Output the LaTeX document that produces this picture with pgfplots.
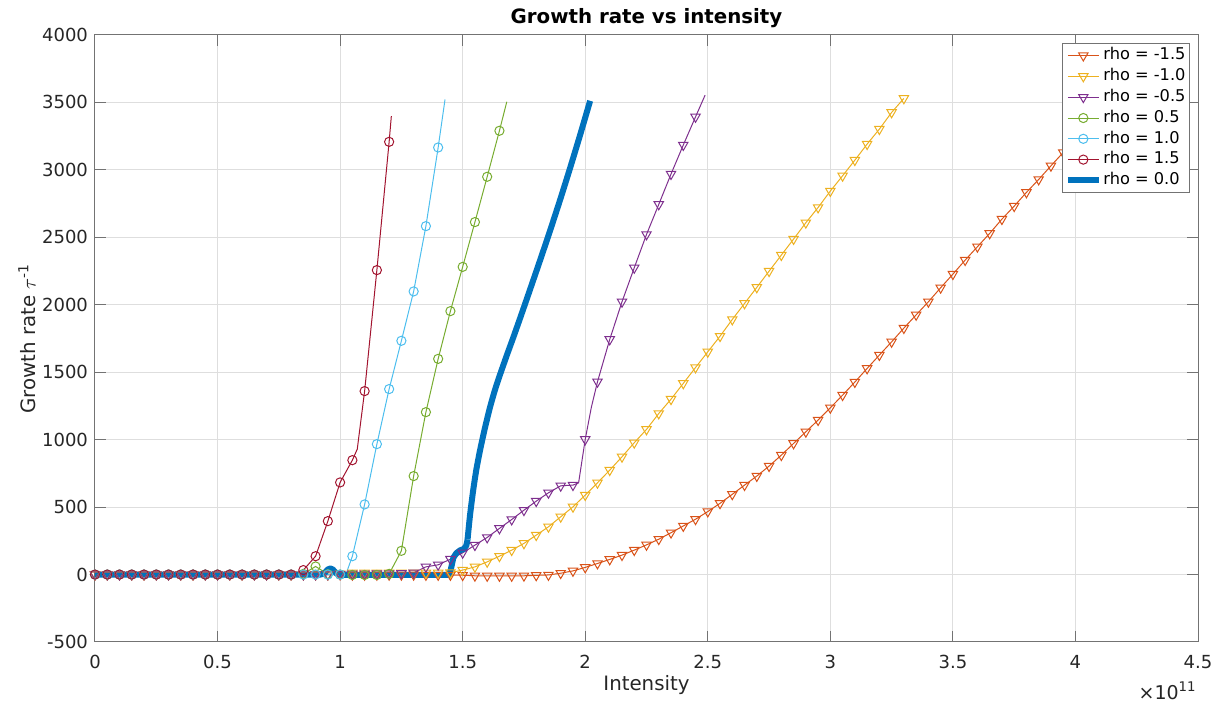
\documentclass[border=0pt]{standalone}
\usepackage{fontspec}
\setmainfont{DejaVu Sans}
\usepackage{pgfplots}
\usepackage{pgfplotstable}
\pgfplotsset{compat=1.18}
\definecolor{cA}{HTML}{D95319}
\definecolor{cB}{HTML}{EDB120}
\definecolor{cC}{HTML}{7E2F8E}
\definecolor{cD}{HTML}{77AC30}
\definecolor{cE}{HTML}{4DBEEE}
\definecolor{cF}{HTML}{A2142F}
\definecolor{cG}{HTML}{0072BD}
\pgfplotsset{
  markonly/.style={only marks, forget plot, restrict expr to domain={\thisrow{m}}{0.5:1.5}, unbounded coords=discard},
  tri/.style={mark=triangle, mark size=2.7pt, mark options={rotate=180, solid, line width=0.5pt}},
  circ/.style={mark=o, mark size=2.3pt, mark options={solid, line width=0.5pt}},
}
% rho = -1.5
\pgfplotstableread[row sep=\\]{
x y m\\
0 0 1\\ 0.05 0 1\\ 0.1 0 1\\ 0.15 0 1\\ 0.2 0 1\\ 0.25 0 1\\ 0.3 0 1\\ 0.35 0 1\\ 0.4 0 1\\ 0.45 0 1\\
0.5 0 1\\ 0.55 0 1\\ 0.6 0 1\\ 0.65 0 1\\ 0.7 0 1\\ 0.75 0 1\\ 0.8 0 1\\ 0.85 0 1\\ 0.9 0 1\\ 0.95 0 1\\
1.0 0 1\\ 1.05 -2 1\\ 1.1 -2 1\\ 1.15 -2 1\\ 1.2 -2 1\\ 1.25 -2 1\\ 1.3 -2 1\\ 1.35 -3 1\\ 1.4 -3 1\\ 1.45 -3 1\\
1.5 -5 1\\ 1.55 -9 1\\ 1.6 -10 1\\ 1.65 -10 1\\ 1.7 -10 1\\ 1.75 -9 1\\ 1.8 -6 1\\ 1.85 -3 1\\ 1.9 10 1\\ 1.95 27 1\\
2.0 53 1\\ 2.05 82 1\\ 2.1 112 1\\ 2.15 144 1\\ 2.2 181 1\\ 2.25 220 1\\ 2.3 262 1\\ 2.35 310 1\\ 2.4 360 1\\ 2.45 410 1\\
2.5 467 1\\ 2.55 528 1\\ 2.6 595 1\\ 2.65 663 1\\ 2.7 730 1\\ 2.75 804 1\\ 2.8 885 1\\ 2.85 972 1\\ 2.9 1058 1\\ 2.95 1145 1\\
3.0 1236 1\\ 3.05 1330 1\\ 3.1 1427 1\\ 3.15 1528 1\\ 3.2 1627 1\\ 3.25 1725 1\\ 3.3 1827 1\\ 3.35 1925 1\\ 3.4 2022 1\\ 3.45 2126 1\\
3.5 2227 1\\ 3.55 2331 1\\ 3.6 2430 1\\ 3.65 2529 1\\ 3.7 2635 1\\ 3.75 2731 1\\ 3.8 2833 1\\ 3.85 2929 1\\ 3.9 3030 1\\ 3.95 3129 1\\
4.0 3230 1\\ 4.05 3330 1\\ 4.1 3430 1\\ 4.15 3530 1\\
}\tabA
% rho = -1.0
\pgfplotstableread[row sep=\\]{
x y m\\
0 0 1\\ 0.05 0 1\\ 0.1 0 1\\ 0.15 0 1\\ 0.2 0 1\\ 0.25 0 1\\ 0.3 0 1\\ 0.35 0 1\\ 0.4 0 1\\ 0.45 0 1\\
0.5 0 1\\ 0.55 0 1\\ 0.6 0 1\\ 0.65 0 1\\ 0.7 0 1\\ 0.75 0 1\\ 0.8 0 1\\ 0.85 0 1\\ 0.9 0 1\\ 0.95 0 1\\
1.0 5 1\\ 1.05 12 1\\ 1.1 12 1\\ 1.15 12 1\\ 1.2 12 1\\ 1.25 12 1\\ 1.3 12 1\\ 1.35 12 1\\ 1.4 12 1\\ 1.45 14 1\\
1.5 33 1\\ 1.55 57 1\\ 1.6 94 1\\ 1.65 136 1\\ 1.7 181 1\\ 1.75 231 1\\ 1.8 292 1\\ 1.85 354 1\\ 1.9 428 1\\ 1.95 502 1\\
2.0 589 1\\ 2.05 680 1\\ 2.1 774 1\\ 2.15 873 1\\ 2.2 977 1\\ 2.25 1076 1\\ 2.3 1194 1\\ 2.35 1300 1\\ 2.4 1417 1\\ 2.45 1535 1\\
2.5 1651 1\\ 2.55 1767 1\\ 2.6 1891 1\\ 2.65 2010 1\\ 2.7 2129 1\\ 2.75 2249 1\\ 2.8 2368 1\\ 2.85 2487 1\\ 2.9 2608 1\\ 2.95 2721 1\\
3.0 2843 1\\ 3.05 2956 1\\ 3.1 3072 1\\ 3.15 3191 1\\ 3.2 3302 1\\ 3.25 3426 1\\ 3.3 3530 1\\
}\tabB
% rho = -0.5
\pgfplotstableread[row sep=\\]{
x y m\\
0 0 1\\ 0.05 0 1\\ 0.1 0 1\\ 0.15 0 1\\ 0.2 0 1\\ 0.25 0 1\\ 0.3 0 1\\ 0.35 0 1\\ 0.4 0 1\\ 0.45 0 1\\
0.5 0 1\\ 0.55 0 1\\ 0.6 0 1\\ 0.65 0 1\\ 0.7 0 1\\ 0.75 0 1\\ 0.8 0 1\\ 0.85 0 1\\ 0.9 0 1\\ 0.95 0 1\\
1.0 3 1\\ 1.05 5 1\\ 1.1 6 1\\ 1.15 7 1\\ 1.2 8 1\\ 1.25 9 1\\ 1.3 13 1\\ 1.35 57 1\\ 1.4 72 1\\ 1.45 114 1\\
1.5 161 1\\ 1.55 218 1\\ 1.6 275 1\\ 1.65 342 1\\ 1.7 408 1\\ 1.75 477 1\\ 1.8 544 1\\ 1.85 606 1\\ 1.9 658 1\\ 1.95 663 1\\
1.973 680 0\\ 2.0 1002 1\\ 2.025 1240 0\\ 2.05 1429 1\\ 2.1 1743 1\\ 2.15 2022 1\\ 2.2 2274 1\\ 2.25 2521 1\\ 2.3 2744 1\\ 2.35 2969 1\\
2.4 3184 1\\ 2.45 3393 1\\ 2.489 3554 0\\
}\tabC
% rho = 0.5
\pgfplotstableread[row sep=\\]{
x y m\\
0 0 1\\ 0.05 0 1\\ 0.1 0 1\\ 0.15 0 1\\ 0.2 0 1\\ 0.25 0 1\\ 0.3 0 1\\ 0.35 0 1\\ 0.4 0 1\\ 0.45 0 1\\
0.5 0 1\\ 0.55 0 1\\ 0.6 0 1\\ 0.65 0 1\\ 0.7 0 1\\ 0.75 0 1\\ 0.8 0 1\\ 0.85 5 1\\ 0.9 60 1\\ 0.95 3 1\\
1.0 0 1\\ 1.05 -3 1\\ 1.1 -3 1\\ 1.15 -3 1\\ 1.2 5 1\\ 1.25 176 1\\ 1.3 730 1\\ 1.35 1204 1\\ 1.4 1599 1\\ 1.45 1953 1\\
1.5 2281 1\\ 1.55 2613 1\\ 1.6 2949 1\\ 1.65 3290 1\\ 1.68 3505 0\\
}\tabD
% rho = 1.0
\pgfplotstableread[row sep=\\]{
x y m\\
0 0 1\\ 0.05 0 1\\ 0.1 0 1\\ 0.15 0 1\\ 0.2 0 1\\ 0.25 0 1\\ 0.3 0 1\\ 0.35 0 1\\ 0.4 0 1\\ 0.45 0 1\\
0.5 0 1\\ 0.55 0 1\\ 0.6 0 1\\ 0.65 0 1\\ 0.7 0 1\\ 0.75 0 1\\ 0.8 0 1\\ 0.85 0 1\\ 0.9 0 1\\ 0.95 0 1\\
1.0 0 1\\ 1.025 8 0\\ 1.05 136 1\\ 1.1 520 1\\ 1.15 967 1\\ 1.2 1375 1\\ 1.25 1733 1\\ 1.3 2099 1\\ 1.35 2583 1\\ 1.4 3166 1\\
1.428 3522 0\\
}\tabE
% rho = 1.5
\pgfplotstableread[row sep=\\]{
x y m\\
0 0 1\\ 0.05 0 1\\ 0.1 0 1\\ 0.15 0 1\\ 0.2 0 1\\ 0.25 0 1\\ 0.3 0 1\\ 0.35 0 1\\ 0.4 0 1\\ 0.45 0 1\\
0.5 0 1\\ 0.55 0 1\\ 0.6 0 1\\ 0.65 0 1\\ 0.7 0 1\\ 0.75 0 1\\ 0.8 0 1\\ 0.85 33 1\\ 0.9 136 1\\ 0.95 396 1\\
1.0 683 1\\ 1.05 848 1\\ 1.07 930 0\\ 1.1 1360 1\\ 1.15 2257 1\\ 1.2 3208 1\\ 1.209 3399 0\\
}\tabF
% rho = 0.0 (lower part)
\pgfplotstableread[row sep=\\]{
x y\\
0 0\\ 0.5 0\\ 0.92 0\\ 0.935 8\\ 0.95 38\\ 0.96 45\\ 0.97 38\\ 0.985 8\\ 1.0 -3\\ 1.2 -3\\ 1.445 -3\\
1.452 40\\ 1.462 125\\ 1.475 160\\ 1.49 180\\ 1.505 190\\ 1.515 215\\ 1.52 260\\
}\tabG
% rho = 0.0 (upper part)
\pgfplotstableread[row sep=\\]{
x y\\
1.52 260\\ 1.53 440\\ 1.543 626\\ 1.556 780\\ 1.571 922\\ 1.59 1080\\ 1.612 1243\\ 1.632 1370\\ 1.652 1480\\
1.68 1625\\ 1.707 1760\\ 1.74 1930\\ 1.78 2140\\ 1.82 2352\\ 1.856 2546\\ 1.9 2792\\ 1.94 3024\\ 1.98 3264\\ 2.02 3512\\
}\tabH
\begin{document}
\begin{tikzpicture}
\useasboundingbox (-47.5pt,-30pt) rectangle (563.5pt,321pt);
\begin{axis}[
  name=ax, at={(0,0)}, anchor=south west,
  scale only axis, width=551.5pt, height=303.5pt,
  xmin=0, xmax=4.5, ymin=-500, ymax=4000,
  xtick={0,0.5,...,4.5}, xticklabels={0,0.5,1,1.5,2,2.5,3,3.5,4,4.5},
  ytick={-500,0,...,4000}, yticklabels={-500,0,500,1000,1500,2000,2500,3000,3500,4000},
  grid=major, major grid style={draw=black!13, line width=0.5pt},
  axis line style={draw=black!55, line width=0.5pt},
  tick style={draw=black!55, line width=0.5pt},
  tick align=inside, major tick length=5.5pt,
  tick label style={font=\fontsize{9}{10.8}\selectfont, text=black!85},
  xticklabel style={yshift=-3pt},
  every axis title shift=0pt,
  title={Growth rate vs intensity},
  title style={font=\bfseries\fontsize{9.9}{11.9}\selectfont, at={(axis description cs:0.5,1.01812)}, anchor=base},
  xlabel={Intensity},
  xlabel style={font=\fontsize{9.9}{11.9}\selectfont, text=black!85, at={(axis description cs:0.5,-0.07908)}, anchor=base},
  ylabel={Growth rate $\tau$\textsuperscript{-1}},
  ylabel style={font=\fontsize{9.9}{11.9}\selectfont, text=black!85, at={(axis description cs:-0.06165,0.5)}, anchor=center},
  legend cell align=left,
  legend image code/.code={\draw[mark repeat=2,mark phase=2] plot coordinates {(0pt,0pt) (7.75pt,0pt) (15.5pt,0pt)};},
  legend style={at={(0.9927,0.9863)}, anchor=north east, draw=black!55, fill=white, line width=0.5pt,
    font=\fontsize{8.1}{9.7}\selectfont, inner xsep=1.2pt, inner ysep=0.7pt, row sep=0pt,
    nodes={inner xsep=0.8pt, inner ysep=1.3pt, text height=6pt, text depth=1.8pt}},
]
\addlegendimage{cA, line width=0.5pt, tri}
\addlegendentry{rho = -1.5}
\addlegendimage{cB, line width=0.5pt, tri}
\addlegendentry{rho = -1.0}
\addlegendimage{cC, line width=0.5pt, tri}
\addlegendentry{rho = -0.5}
\addlegendimage{cD, line width=0.5pt, circ}
\addlegendentry{rho = 0.5}
\addlegendimage{cE, line width=0.5pt, circ}
\addlegendentry{rho = 1.0}
\addlegendimage{cF, line width=0.5pt, circ}
\addlegendentry{rho = 1.5}
\addlegendimage{cG, line width=3pt}
\addlegendentry{rho = 0.0}

\addplot[cA, line width=0.5pt, forget plot] table[x=x,y=y] {\tabA};
\addplot[cA, tri, markonly] table[x=x,y=y] {\tabA};
\addplot[cB, line width=0.5pt, forget plot] table[x=x,y=y] {\tabB};
\addplot[cB, tri, markonly] table[x=x,y=y] {\tabB};
\addplot[cC, line width=0.5pt, forget plot] table[x=x,y=y] {\tabC};
\addplot[cC, tri, markonly] table[x=x,y=y] {\tabC};
\addplot[cD, line width=0.5pt, forget plot] table[x=x,y=y] {\tabD};
\addplot[cD, circ, markonly] table[x=x,y=y] {\tabD};
\addplot[cE, line width=0.5pt, forget plot] table[x=x,y=y] {\tabE};
\addplot[cE, circ, markonly] table[x=x,y=y] {\tabE};
\addplot[cF, line width=0.5pt, forget plot] table[x=x,y=y] {\tabF};
\addplot[cF, circ, markonly] table[x=x,y=y] {\tabF};
\addplot[cG, line width=3pt, line join=round, forget plot] table[x=x,y=y] {\tabG};
\addplot[cG, line width=3pt, line join=round, smooth, tension=0.4, forget plot] table[x=x,y=y] {\tabH};
\end{axis}
\node[anchor=base east, inner sep=0pt, font=\fontsize{9.5}{11}\selectfont, text=black!85] at ([xshift=-0.5pt,yshift=-28.5pt]ax.south east) {×10\textsuperscript{11}};
\end{tikzpicture}
\end{document}
